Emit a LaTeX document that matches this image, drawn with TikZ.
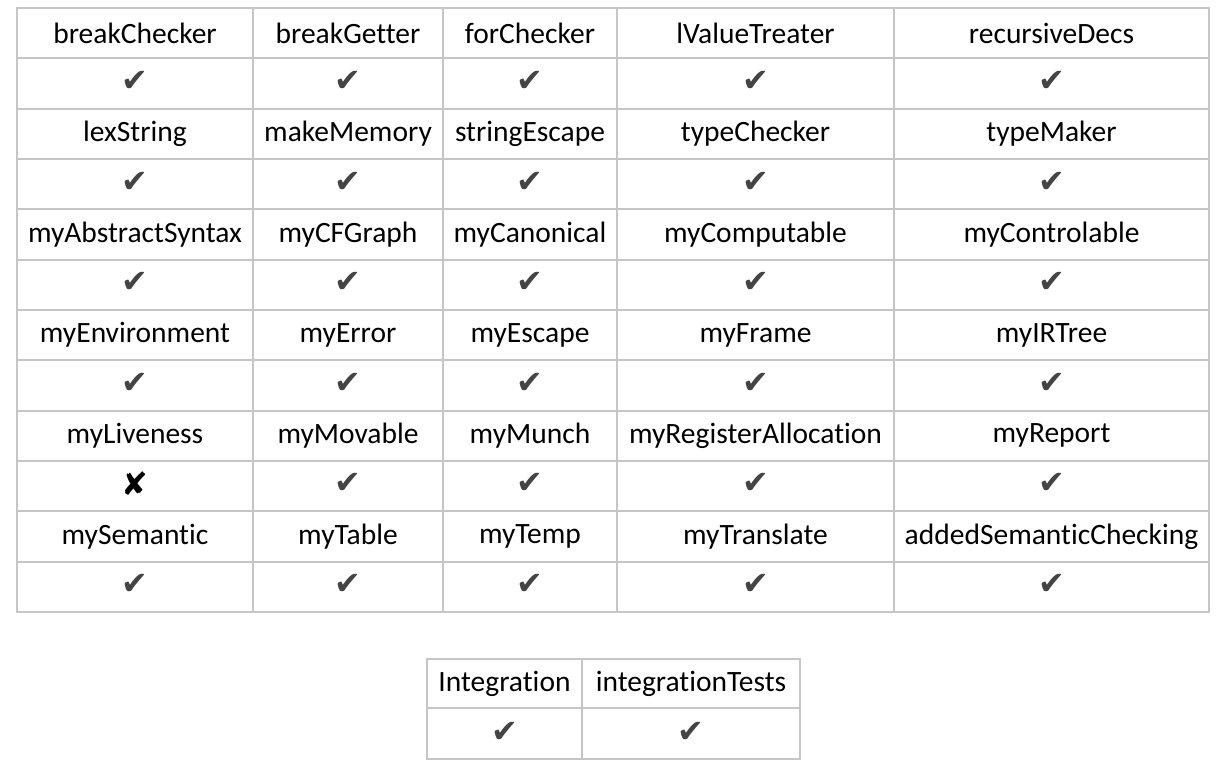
\documentclass[tikz,border=0pt]{standalone}
\usepackage{fontspec}
\setmainfont{Carlito}[RawFeature={-liga;-clig;-calt;-dlig}]
\newfontfamily\symfont{DejaVu Sans}
\definecolor{gridgray}{HTML}{C6C6C6}
\definecolor{tickgray}{HTML}{444444}

\begin{document}
\begin{tikzpicture}[x=1pt, y=-1pt,
    cell/.style={font=\fontsize{29.5}{34}\selectfont, inner sep=0pt},
    tick/.style={font=\symfont\fontsize{32}{36}\selectfont, text=tickgray, inner sep=0pt},
    cross/.style={font=\symfont\fontsize{32}{36}\selectfont, text=black, inner sep=0pt},
    rule/.style={gridgray, line width=2pt}]

    \useasboundingbox (0,0) rectangle (1222,776);

    % main table grid
    \foreach \x in {17,253,443,617,894,1209}
        \draw[rule] (\x,8) -- (\x,612);
    \foreach \i in {0,...,12}
        \draw[rule] (16,8+50.33*\i) -- (1210,8+50.33*\i);

    % module names
    \foreach \r/\a/\b/\c/\d/\e in {
        0/breakChecker/breakGetter/forChecker/lValueTreater/recursiveDecs,
        1/lexString/makeMemory/stringEscape/typeChecker/typeMaker,
        2/myAbstractSyntax/myCFGraph/myCanonical/myComputable/myControlable,
        3/myEnvironment/myError/myEscape/myFrame/myIRTree,
        4/myLiveness/myMovable/myMunch/myRegisterAllocation/myReport,
        5/mySemantic/myTable/myTemp/myTranslate/addedSemanticChecking} {
        \node[cell] (name\r-1) at (135,33.2+100.67*\r) {\a};
        \node[cell] (name\r-2) at (348,33.2+100.67*\r) {\b};
        \node[cell] (name\r-3) at (530,33.2+100.67*\r) {\c};
        \node[cell] (name\r-4) at (755.5,33.2+100.67*\r) {\d};
        \node[cell] (name\r-5) at (1051.5,33.2+100.67*\r) {\e};
    }

    % results
    \foreach \r in {0,1,2,3,5}
        \foreach \c/\x in {1/135,2/348,3/530,4/755.5,5/1051.5}
            \node[tick] (res\r-\c) at (\x,81.5+100.67*\r) {✔};
    \node[cross] (res4-1) at (135,484) {✘};
    \foreach \c/\x in {2/348,3/530,4/755.5,5/1051.5}
        \node[tick] (res4-\c) at (\x,483) {✔};

    % integration table
    \draw[rule] (427,659) -- (427,759);
    \draw[rule] (582,659) -- (582,759);
    \draw[rule] (800,659) -- (800,759);
    \draw[rule] (426,659) -- (801,659);
    \draw[rule] (426,708) -- (801,708);
    \draw[rule] (426,759) -- (801,759);
    \node[cell] (integ) at (504.5,683.5) {Integration};
    \node[cell] (integtests) at (691,683.5) {integrationTests};
    \node[tick] (integres) at (504.5,732) {✔};
    \node[tick] (integtestsres) at (691,732) {✔};
\end{tikzpicture}
\end{document}
